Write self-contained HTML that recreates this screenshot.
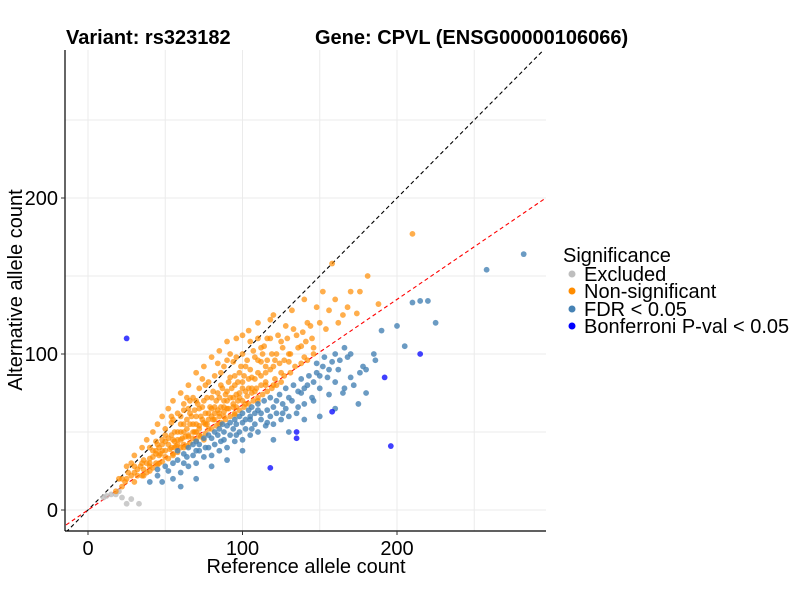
<!DOCTYPE html>
<html><head><meta charset="utf-8"><style>
body{margin:0;background:#fff;}
svg text{font-family:"Liberation Sans",sans-serif;}
</style></head><body>
<svg id="chart" width="800" height="600" xmlns="http://www.w3.org/2000/svg">
<g id="grid"></g>
<g id="lines"></g>
<g id="pts"></g>
<g id="axes"></g>
<text x="66" y="44" font-size="20" font-weight="bold">Variant: rs323182</text>
<text x="315" y="44" font-size="20" font-weight="bold">Gene: CPVL (ENSG00000106066)</text>
<text x="306" y="573" font-size="20" text-anchor="middle">Reference allele count</text>
<text transform="translate(22,290) rotate(-90)" font-size="20" text-anchor="middle">Alternative allele count</text>
<g>
<text x="563" y="262" font-size="20">Significance</text>
<circle cx="572" cy="274" r="3.5" fill="#bebebe"/><text x="584" y="281" font-size="20">Excluded</text>
<circle cx="572" cy="291" r="3.5" fill="#ff8c00"/><text x="584" y="298" font-size="20">Non-significant</text>
<circle cx="572" cy="309" r="3.5" fill="#4682b4"/><text x="584" y="316" font-size="20">FDR &lt; 0.05</text>
<circle cx="572" cy="326" r="3.5" fill="#0000ff"/><text x="584" y="333" font-size="20">Bonferroni P-val &lt; 0.05</text>
</g>
</svg>
<script>
const xTicks=[0,100,200];
const yTicks=[0,100,200];
const minorTicks=[50,150,250];
const redSlope=0.675;
const excluded=[[10,8],[15,10],[20,12],[22,8],[25,4],[28,7],[33,4],[18,10],[12,9]];
const nonSig=[[20,20],[22,15],[25,28],[28,22],[30,35],[30,18],[32,26],[35,40],[35,30],[36,22],[38,45],[40,33],[40,28],[42,50],[42,38],[44,30],[45,55],[45,42],[46,35],[48,60],[48,45],[50,38],[50,52],[52,65],[52,42],[54,48],[55,70],[55,58],[56,40],[58,50],[58,62],[60,75],[60,45],[60,55],[62,68],[62,50],[64,58],[65,80],[65,48],[66,62],[68,72],[68,55],[70,88],[70,60],[70,50],[72,78],[72,65],[74,58],[75,92],[75,70],[76,55],[78,82],[78,62],[80,98],[80,72],[80,60],[82,86],[82,66],[84,75],[85,102],[85,62],[86,80],[88,92],[88,70],[90,108],[90,76],[90,65],[92,85],[94,95],[94,72],[95,80],[96,110],[98,88],[98,75],[100,100],[100,82],[102,92],[104,115],[104,78],[106,85],[108,98],[110,120],[110,88],[112,95],[114,105],[115,82],[118,110],[120,125],[120,92],[122,100],[125,108],[128,118],[130,100],[132,128],[135,112],[138,105],[140,135],[142,120],[145,110],[148,130],[158,158],[152,140],[160,135],[165,125],[170,140],[181,150],[188,132],[210,177],[110,70],[115,88],[75,45],[85,55],[60,40],[40,25],[55,35],[95,62],[120,80],[130,95],[100,70],[30,28],[25,20],[18,12],[65,65],[70,70],[50,48],[92,100],[105,108],[48,38],[58,45],[78,52],[88,60],[102,68],[125,88],[140,98],[62,42],[72,48],[82,58],[96,66],[108,76],[68,46],[44,38],[36,32],[28,30],[54,56],[64,72],[74,84],[84,94],[112,104],[116,96],
[38,30],[42,34],[44,36],[46,40],[48,42],[50,44],[52,46],[54,40],[55,45],[56,50],[58,42],[60,50],[60,60],[62,55],[63,47],[64,52],[66,55],[67,60],[68,50],[69,64],[70,55],[71,68],[72,52],[73,60],[74,66],[75,56],[76,62],[77,72],[78,58],[79,66],[80,65],[81,76],[82,62],[83,70],[84,64],[85,72],[86,66],[87,78],[88,66],[89,74],[90,70],[91,82],[92,72],[93,78],[94,68],[95,86],[96,74],[97,82],[98,72],[99,92],[100,78],[101,86],[102,76],[103,96],[104,84],[105,90],[106,78],[107,102],[108,84],[110,96],[112,86],[113,100],[115,92],[116,110],[118,90],[119,100],[121,96],[123,112],[124,94],[126,104],[127,96],[129,110],[131,100],[133,116],[136,104],[139,114],[141,108],[144,118],[146,104],[150,120],[154,116],[156,128],[162,120],[168,130],[174,126],[176,140],[30,24],[32,22],[34,28],[26,24],[24,18],[22,20],[36,26],[46,30],[50,34],[44,44],[40,40],[56,44],[54,60],[62,64],[66,70],[76,80],[86,88],[96,98],[118,122],[100,112],[90,96],[110,110],
[35,22],[38,24],[42,27],[45,29],[48,31],[52,33],[55,36],[58,37],[62,40],[64,41],[66,43],[70,45],[73,47],[76,49],[80,52],[83,54],[86,56],[89,58],[92,60],[95,61],[98,64],[101,66],[104,68],[107,70],[110,72],[113,74],[116,76],[119,78],[122,80],[125,82],[40,30],[47,36],[53,39],[57,41],[61,46],[65,47],[69,50],[72,54],[77,55],[81,58],[85,60],[88,63],[91,65],[94,66],[97,70],[103,73],[106,75],[109,78],[112,80],[115,80],[121,84],[127,86],[131,88],[134,92],[138,94],[142,96],[146,100]];
const fdr=[[40,18],[45,22],[48,18],[50,28],[52,25],[55,20],[58,32],[60,24],[62,30],[65,28],[68,35],[70,30],[72,38],[75,34],[78,40],[80,35],[82,42],[85,38],[88,45],[90,40],[92,48],[95,44],[98,50],[100,45],[102,52],[105,48],[108,55],[110,50],[112,58],[115,54],[118,60],[120,55],[122,62],[125,58],[128,65],[130,60],[132,70],[135,62],[138,75],[140,68],[142,80],[145,72],[148,88],[150,78],[152,92],[155,85],[158,95],[160,82],[162,90],[165,75],[168,98],[170,85],[172,80],[175,68],[180,90],[185,100],[190,115],[200,118],[205,105],[210,133],[215,134],[220,134],[225,120],[258,154],[282,164],[140,58],[120,45],[100,38],[90,32],[80,28],[70,20],[60,15],[105,58],[130,50],[160,65],[180,75],[150,60],
[45,26],[55,30],[58,38],[62,36],[65,40],[68,42],[70,44],[72,42],[75,46],[78,48],[80,46],[82,50],[84,48],[85,52],[87,55],[88,50],[90,54],[92,56],[94,52],[95,58],[96,55],[98,60],[100,56],[100,62],[102,58],[104,64],[105,60],[106,66],[108,62],[110,64],[110,68],[112,62],[114,70],[116,64],[118,72],[120,66],[122,70],[124,74],[126,68],[128,78],[130,72],[133,80],[136,76],[138,84],[140,78],[143,86],[146,82],[148,94],[150,86],[153,98],[156,90],[160,100],[163,96],[166,104],[70,38],[64,34],[76,40],[86,44],[96,48],[106,52],[116,56],[126,62],[136,66],[146,70],[156,74],[166,78],[176,88],[186,96],[170,100],[178,92]];
const bonf=[[25,110],[215,100],[192,85],[158,63],[135,50],[135,46],[118,27],[196,41]];

const X0=88,XS=1.545,Y0=510,YS=1.56;
const L=65,R=546,T=50,B=531;
const sx=v=>X0+v*XS, sy=v=>Y0-v*YS;
const NS='http://www.w3.org/2000/svg';
function mk(tag,attrs,parent){const e=document.createElementNS(NS,tag);for(const k in attrs)e.setAttribute(k,attrs[k]);parent.appendChild(e);return e;}
const grid=document.getElementById('grid');
xTicks.concat(minorTicks).forEach(t=>{const e=mk('line',{x1:sx(t),x2:sx(t),y1:T,y2:B,stroke:'#ebebeb','stroke-width':1},grid);

});
yTicks.concat(minorTicks).forEach(t=>{const e=mk('line',{x1:L,x2:R,y1:sy(t),y2:sy(t),stroke:'#ebebeb','stroke-width':1},grid);

});
const lines=document.getElementById('lines');
const xa=-14.2,xb=296;
const d1=mk('line',{x1:sx(xa),y1:sy(xa),x2:sx(xb),y2:sy(xb),stroke:'#000','stroke-width':1.1,'stroke-dasharray':'4,3'},lines);


const d2=mk('line',{x1:sx(xa),y1:sy(xa*redSlope),x2:sx(xb),y2:sy(xb*redSlope),stroke:'#ff0000','stroke-width':1.1,'stroke-dasharray':'4,3'},lines);


const cp=mk('clipPath',{id:'clip'},document.getElementById('chart'));
mk('rect',{x:L,y:T,width:R-L,height:B-T},cp);
lines.setAttribute('clip-path','url(#clip)');
const pts=document.getElementById('pts');
function draw(arr,col,op,name){arr.forEach(p=>{const c=mk('circle',{cx:sx(p[0]),cy:sy(p[1]),r:2.9,fill:col,'fill-opacity':op},pts);

});}
draw(excluded,'#bebebe',0.8,'point-excluded');
draw(nonSig,'#ff8c00',0.7,'point-non-significant');
draw(fdr,'#4682b4',0.8,'point-fdr');
draw(bonf,'#0000ff',0.75,'point-bonferroni');
const axes=document.getElementById('axes');
mk('line',{x1:L,x2:L,y1:T,y2:B,stroke:'#000','stroke-width':1.2},axes);
mk('line',{x1:L,x2:R,y1:B,y2:B,stroke:'#000','stroke-width':1.2},axes);
xTicks.forEach(t=>{mk('line',{x1:sx(t),x2:sx(t),y1:B,y2:B+4,stroke:'#333'},axes);
const tx=mk('text',{x:sx(t),y:B+24,'font-size':20,'text-anchor':'middle'},axes);tx.textContent=t;

});
yTicks.forEach(t=>{mk('line',{x1:L-4,x2:L,y1:sy(t),y2:sy(t),stroke:'#333'},axes);
const tx=mk('text',{x:L-7,y:sy(t)+7,'font-size':20,'text-anchor':'end'},axes);tx.textContent=t;

});
</script>
</body></html>
